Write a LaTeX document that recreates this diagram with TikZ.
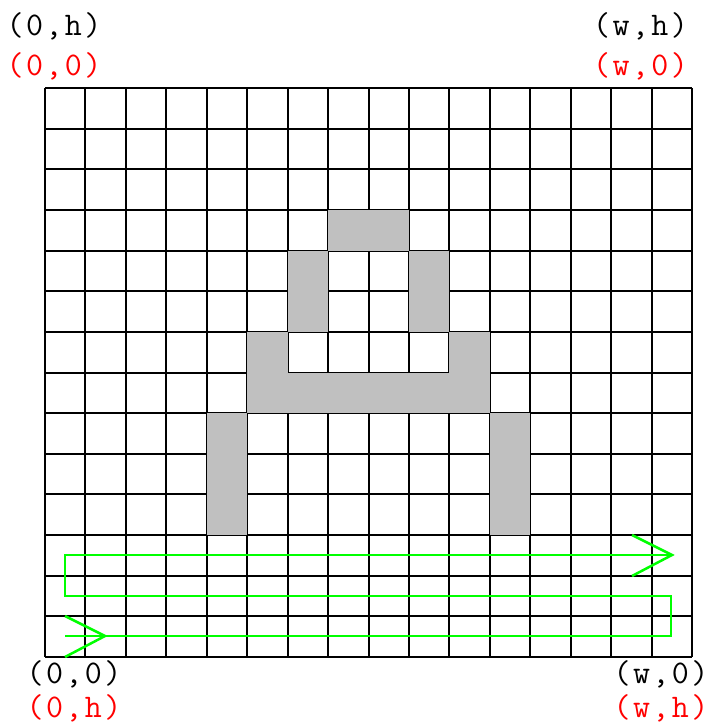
\documentclass[tikz,border=0pt]{standalone}
\definecolor{cellgray}{RGB}{192,192,192}
\definecolor{pathgreen}{RGB}{0,255,0}
\definecolor{lblred}{RGB}{255,0,0}
\newcommand\mc[1]{\makebox[19.4pt]{#1}}
\newcommand\coordtext[3]{\mc{(}\mc{#1}\mc{,}\mc{#2}\mc{)}}
\begin{document}
\begin{tikzpicture}[x=1pt,y=-1pt,
  lbl/.style={inner sep=0pt, anchor=base, font=\fontsize{33}{33}\selectfont\ttfamily},
  gridline/.style={line width=2pt, black},
  greenpath/.style={draw=pathgreen, line width=2.5pt, line join=miter}]
\useasboundingbox (0,0) rectangle (709,726);
\fill[white] (0,0) rectangle (709,726);
% grid
\foreach \i in {0,...,16}
  \draw[gridline] ({45+\i*40.4375},88) -- ({45+\i*40.4375},657);
\foreach \j in {0,...,14}
  \draw[gridline] (45,{88+\j*40.643}) -- (692,{88+\j*40.643});
% grey cells
\foreach \c/\r in {7/3,8/3,6/4,9/4,6/5,9/5,5/6,10/6,5/7,6/7,7/7,8/7,9/7,10/7,4/8,11/8,4/9,11/9,4/10,11/10}
  \fill[cellgray] ({45+\c*40.4375},{88+\r*40.643}) rectangle ++(40.4375,40.643);
% green scan path
\coordinate (p0) at (65,636);
\coordinate (p1) at (671,636);
\coordinate (p2) at (671,596);
\coordinate (p3) at (65,596);
\coordinate (p4) at (65,555);
\coordinate (p5) at (672,555);
\draw[greenpath] (p0) -- (p1) -- (p2) -- (p3) -- (p4) -- (p5);
\coordinate (a1) at (65,616);
\coordinate (a2) at (105,636);
\coordinate (a3) at (65,657);
\draw[greenpath] (a1) -- (a2) -- (a3);
\coordinate (b1) at (632,535);
\coordinate (b2) at (672,555);
\coordinate (b3) at (632,576);
\draw[greenpath] (b1) -- (b2) -- (b3);
% labels
\node[lbl] (tl1) at (54,35) {\coordtext{0}{h}{}};
\node[lbl, text=lblred] (tl2) at (54,75) {\coordtext{0}{0}{}};
\node[lbl] (tr1) at (640.5,35) {\coordtext{w}{h}{}};
\node[lbl, text=lblred] (tr2) at (640.5,75) {\coordtext{w}{0}{}};
\node[lbl] (bl1) at (74,683) {\coordtext{0}{0}{}};
\node[lbl, text=lblred] (bl2) at (74,717) {\coordtext{0}{h}{}};
\node[lbl] (br1) at (661,683) {\coordtext{w}{0}{}};
\node[lbl, text=lblred] (br2) at (661,717) {\coordtext{w}{h}{}};
\end{tikzpicture}
\end{document}
